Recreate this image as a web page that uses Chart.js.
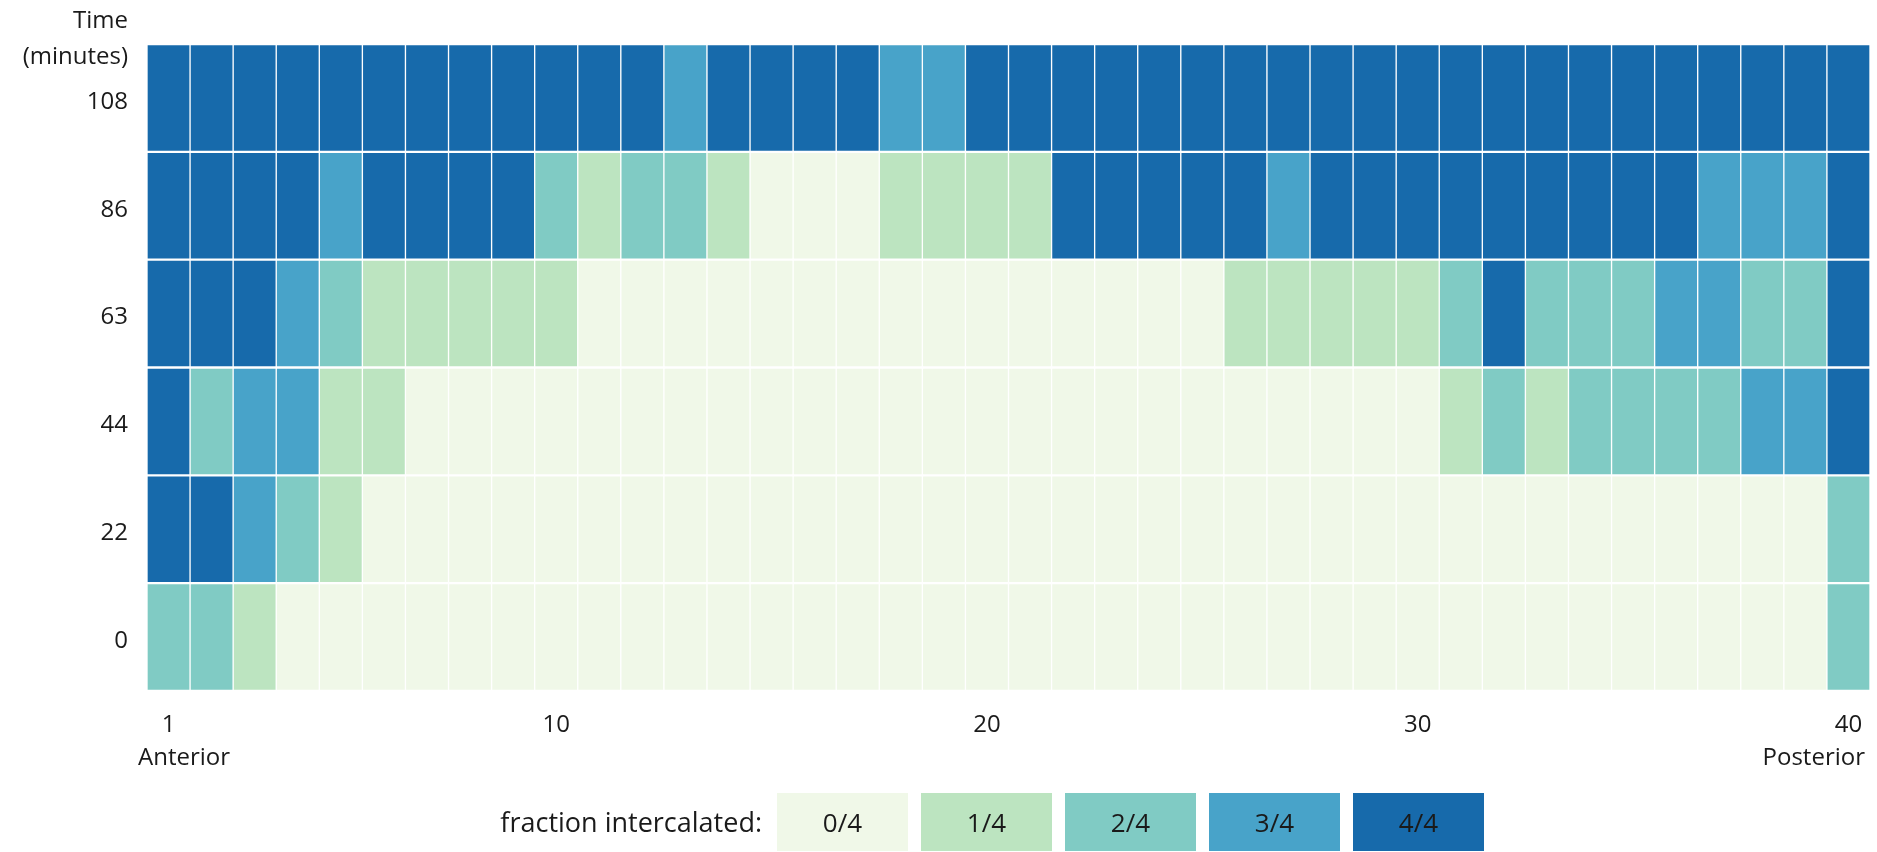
<!DOCTYPE html>
<html>
<head>
<meta charset="utf-8">
<title>Intercalation over time</title>
<script src="https://cdn.jsdelivr.net/npm/chart.js@4.4.1/dist/chart.umd.min.js"></script>
<style>
    html, body { margin: 0; padding: 0; background: #fff; }
    #wrap { position: relative; width: 1877px; height: 852px; font-family: "Open Sans", sans-serif; color: #1a1a1a; }
    #heatmap { position: absolute; left: 0; top: 0; }
    #legend { position: absolute; left: 0; top: 793px; height: 58px; width: 1877px; }
    .legend-title { position: absolute; right: calc(1877px - 762px); top: 0; line-height: 58px; font-size: 27px; }
    .legend-box { position: absolute; top: 0; width: 131px; height: 58px; line-height: 58px; text-align: center; font-size: 26px; }
</style>
</head>
<body>
<div id="wrap">
    <canvas id="heatmap" width="1877" height="852"></canvas>
    <div id="legend"></div>
</div>

<script>
// segment number along the axis, 1 = anterior, 40 = posterior
const segments = Array.from({ length: 40 }, (_, i) => String(i + 1));
const shownSegments = ["1", "10", "20", "30", "40"];

// sampling times, bottom row first
const timeLabels = ["0", "22", "44", "63", "86", "108"];

// fraction intercalated per segment (quarters), one array per time point
const t0   = [2,2,1,0,0,0,0,0,0,0, 0,0,0,0,0,0,0,0,0,0, 0,0,0,0,0,0,0,0,0,0, 0,0,0,0,0,0,0,0,0,2];
const t22  = [4,4,3,2,1,0,0,0,0,0, 0,0,0,0,0,0,0,0,0,0, 0,0,0,0,0,0,0,0,0,0, 0,0,0,0,0,0,0,0,0,2];
const t44  = [4,2,3,3,1,1,0,0,0,0, 0,0,0,0,0,0,0,0,0,0, 0,0,0,0,0,0,0,0,0,0, 1,2,1,2,2,2,2,3,3,4];
const t63  = [4,4,4,3,2,1,1,1,1,1, 0,0,0,0,0,0,0,0,0,0, 0,0,0,0,0,1,1,1,1,1, 2,4,2,2,2,3,3,2,2,4];
const t86  = [4,4,4,4,3,4,4,4,4,2, 1,2,2,1,0,0,0,1,1,1, 1,4,4,4,4,4,3,4,4,4, 4,4,4,4,4,4,3,3,3,4];
const t108 = [4,4,4,4,4,4,4,4,4,4, 4,4,3,4,4,4,4,3,3,4, 4,4,4,4,4,4,4,4,4,4, 4,4,4,4,4,4,4,4,4,4];

const rows = [t0, t22, t44, t63, t86, t108];

const fractionLabels = ["0/4", "1/4", "2/4", "3/4", "4/4"];
const fractionColors = ["#f0f8e8", "#bce4c0", "#80cbc4", "#48a3c9", "#176aab"];

const textColor = "#1a1a1a";
const font = { family: "Open Sans", size: 24 };

// each time point is one dataset of floating bars spanning its row
const datasets = rows.map((values, r) => ({
    label: timeLabels[r] + " min",
    data: values.map(() => [r, r + 1]),
    backgroundColor: values.map(v => fractionColors[v]),
    borderColor: "#ffffff",
    borderWidth: { top: 1.5, bottom: 1.5, left: 1, right: 1 },
    borderSkipped: false,
    barPercentage: 1,
    categoryPercentage: 1,
    grouped: false
}));

// axis caption and the two ends of the body
const extraText = {
    id: "extraText",
    afterDraw(chart) {
        const { ctx, chartArea } = chart;
        ctx.save();
        ctx.font = `${font.size}px "${font.family}"`;
        ctx.fillStyle = textColor;
        ctx.textBaseline = "alphabetic";
        ctx.textAlign = "right";
        ctx.fillText("Time", chartArea.left - 19, chartArea.top - 16);
        ctx.fillText("(minutes)", chartArea.left - 19, chartArea.top + 20);
        ctx.textAlign = "left";
        ctx.fillText("Anterior", chartArea.left - 9, chartArea.bottom + 74);
        ctx.textAlign = "right";
        ctx.fillText("Posterior", chartArea.right - 5, chartArea.bottom + 74);
        ctx.restore();
    }
};

new Chart(document.getElementById("heatmap"), {
    type: "bar",
    data: { labels: segments, datasets },
    plugins: [extraText],
    options: {
        responsive: false,
        animation: false,
        layout: { padding: { left: 0, top: 44, right: 7, bottom: 0 } },
        plugins: {
            legend: { display: false },
            tooltip: { enabled: false }
        },
        scales: {
            x: {
                grid: { display: false, drawTicks: false },
                border: { display: false },
                ticks: {
                    autoSkip: false,
                    maxRotation: 0,
                    padding: 20,
                    color: textColor,
                    font,
                    callback(value, index) {
                        const label = segments[index];
                        return shownSegments.includes(label) ? label : "";
                    }
                },
                afterFit(scale) {
                    scale.height = 161;
                    scale.paddingLeft = 0;
                    scale.paddingRight = 0;
                }
            },
            y: {
                min: 0,
                max: 6,
                grid: { display: false, drawTicks: false },
                border: { display: false },
                afterBuildTicks(scale) {
                    scale.ticks = timeLabels.map((_, i) => ({ value: i + 0.5 }));
                },
                ticks: {
                    padding: 19,
                    labelOffset: 4,
                    color: textColor,
                    font,
                    callback: value => timeLabels[Math.floor(value)]
                },
                afterFit(scale) {
                    scale.width = 147;
                    scale.paddingTop = 0;
                    scale.paddingBottom = 0;
                }
            }
        }
    }
});

// colour key under the chart
const legend = document.getElementById("legend");
legend.innerHTML = `<span class="legend-title">fraction intercalated:</span>` +
    fractionLabels.map((label, i) => `
        <div class="legend-box" style="left: ${777 + i * 144}px; background: ${fractionColors[i]};">${label}</div>
    `).join("");
</script>
</body>
</html>
